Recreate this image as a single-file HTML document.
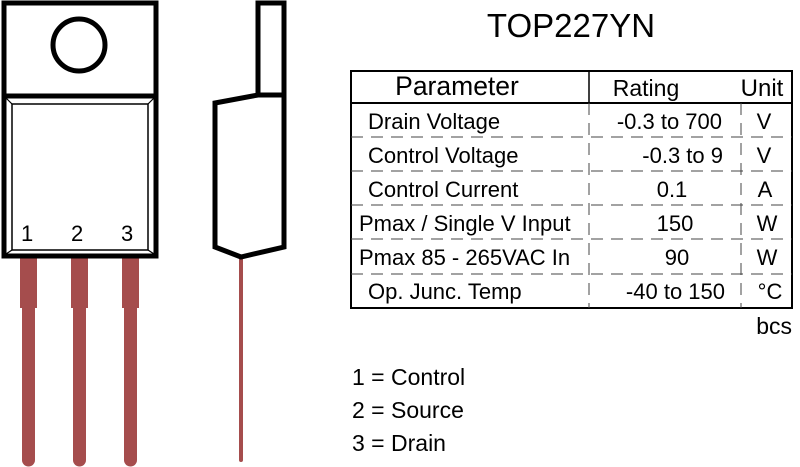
<!DOCTYPE html>
<html><head><meta charset="utf-8"><style>
html,body{margin:0;padding:0;background:#fff;}
svg{display:block;font-family:"Liberation Sans",Arial,sans-serif;}
</style></head><body>
<svg width="800" height="467" viewBox="0 0 800 467" xmlns="http://www.w3.org/2000/svg">
<!-- leads front -->
<g fill="#a54d4d">
<rect x="20" y="256" width="17" height="52"/><rect x="22" y="300" width="13" height="160"/><circle cx="28.5" cy="460" r="6.5"/>
<rect x="71" y="256" width="17" height="52"/><rect x="73" y="300" width="13" height="160"/><circle cx="79.5" cy="460" r="6.5"/>
<rect x="122" y="256" width="17" height="52"/><rect x="124" y="300" width="13" height="160"/><circle cx="130.5" cy="460" r="6.5"/>
<rect x="239" y="255" width="4" height="207" rx="2"/>
</g>
<!-- front package -->
<rect x="4" y="3" width="152" height="253" fill="#fff" stroke="#000" stroke-width="5"/>
<line x1="4" y1="96" x2="156" y2="96" stroke="#000" stroke-width="5"/>
<circle cx="79" cy="45" r="26" fill="none" stroke="#000" stroke-width="5"/>
<rect x="12" y="104" width="136" height="146" fill="none" stroke="#000" stroke-width="1.5"/>
<g stroke="#000" stroke-width="1.2">
<line x1="6" y1="98" x2="12" y2="104"/><line x1="154" y1="98" x2="148" y2="104"/>
<line x1="6" y1="254" x2="12" y2="250"/><line x1="154" y1="254" x2="148" y2="250"/>
</g>
<g font-size="22" fill="#000"><text x="21" y="241">1</text><text x="71" y="241">2</text><text x="121" y="241">3</text></g>
<!-- side view -->
<rect x="258" y="3" width="26" height="92" fill="#fff" stroke="#000" stroke-width="5"/>
<polygon points="215,103 258,95 284,95 284,247 241,257 215,247" fill="#fff" stroke="#000" stroke-width="5" stroke-linejoin="miter"/>
<!-- title -->
<text x="571" y="37" font-size="33" text-anchor="middle">TOP227YN</text>
<!-- table -->
<g stroke="#000" fill="none">
<rect x="351" y="71" width="441" height="237" stroke-width="2"/>
<line x1="351" y1="103" x2="792" y2="103" stroke-width="2"/>
<line x1="589" y1="71" x2="589" y2="103" stroke-width="1.5"/>
<g stroke-dasharray="12,8" stroke-width="1" stroke="#444">
<line x1="589" y1="103" x2="589" y2="308"/>
<line x1="741" y1="103" x2="741" y2="308"/>
<line x1="351" y1="137" x2="792" y2="137"/>
<line x1="351" y1="171" x2="792" y2="171"/>
<line x1="351" y1="205" x2="792" y2="205"/>
<line x1="351" y1="239" x2="792" y2="239"/>
<line x1="351" y1="274" x2="792" y2="274"/>
</g></g>
<g font-size="22" fill="#000">
<text x="457" y="95" font-size="26.5" text-anchor="middle">Parameter</text>
<text x="646" y="96" font-size="23" text-anchor="middle">Rating</text>
<text x="762" y="96" font-size="24" text-anchor="middle">Unit</text>
<text x="368" y="129">Drain Voltage</text>
<text x="368" y="163">Control Voltage</text>
<text x="368" y="197">Control Current</text>
<text x="359" y="231">Pmax / Single V Input</text>
<text x="359" y="265">Pmax 85 - 265VAC In</text>
<text x="368" y="299">Op. Junc. Temp</text>
<text x="722" y="129" text-anchor="end">-0.3 to 700</text>
<text x="723" y="163" text-anchor="end">-0.3 to 9</text>
<text x="672" y="197" text-anchor="middle">0.1</text>
<text x="675" y="231" text-anchor="middle">150</text>
<text x="677" y="265" text-anchor="middle">90</text>
<text x="725" y="299" text-anchor="end">-40 to 150</text>
<text x="764" y="129" text-anchor="middle">V</text>
<text x="764" y="163" text-anchor="middle">V</text>
<text x="765" y="197" text-anchor="middle">A</text>
<text x="767" y="231" text-anchor="middle">W</text>
<text x="767" y="265" text-anchor="middle">W</text>
<text x="770" y="299" text-anchor="middle">°C</text>
<text x="792" y="334" text-anchor="end" font-size="23">bcs</text>
<text x="352" y="385" font-size="23">1 = Control</text>
<text x="352" y="418" font-size="23">2 = Source</text>
<text x="352" y="451" font-size="23">3 = Drain</text>
</g>
</svg>
</body></html>
